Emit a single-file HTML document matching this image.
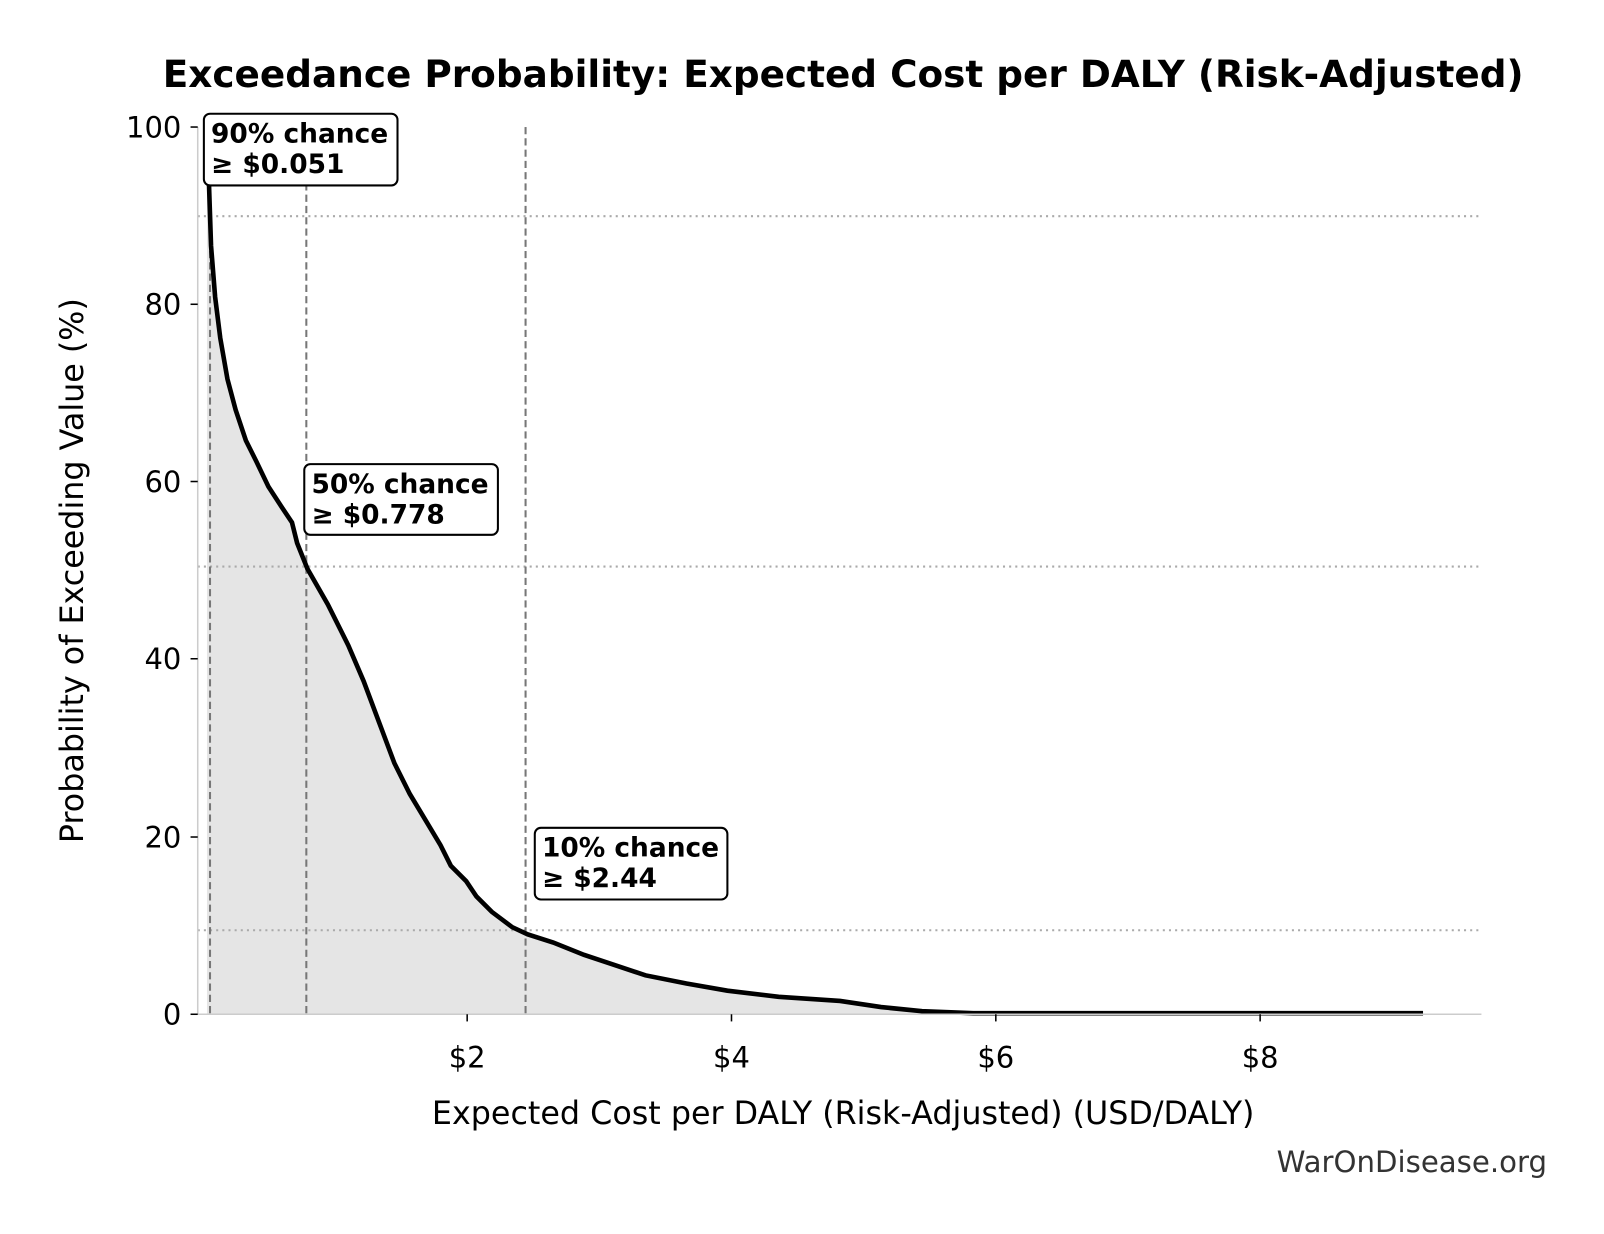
<!DOCTYPE html>
<html><head><meta charset="utf-8"><style>
html,body{margin:0;padding:0;background:#fff;}
svg{display:block;font-family:"DejaVu Sans","Liberation Sans",sans-serif;}
</style></head><body>
<svg width="1604" height="1234" viewBox="0 0 1604 1234" xmlns="http://www.w3.org/2000/svg">
<rect width="1604" height="1234" fill="#fff"/>
<g transform="scale(1.0245)">
<text x="823" y="85" text-anchor="middle" font-size="36.5" font-weight="bold">Exceedance Probability: Expected Cost per DALY (Risk-Adjusted)</text>
<polygon fill="#e5e5e5" points="202,990 202,130 204,180 206,240 210,290 215,330 222,370 230,400 240,430 250,450 262,475 275,495 285,510 290,530 300,555 320,590 340,630 355,665 370,705 385,745 400,775 415,800 430,825 440,845 455,860 465,875 480,890 500,905 515,912 540,920 570,932 600,942 630,952 670,960 710,967 760,973 820,977 860,983 900,987 950,989 1389,989 1389,990"/>
<g stroke="#aaa" stroke-width="2" stroke-dasharray="2,4">
<line x1="193" y1="211" x2="1446" y2="211"/>
<line x1="193" y1="553" x2="1446" y2="553"/>
<line x1="193" y1="908" x2="1446" y2="908"/>
</g>
<g stroke="#777" stroke-width="2" stroke-dasharray="7,4">
<line x1="205" y1="124" x2="205" y2="990"/>
<line x1="299" y1="124" x2="299" y2="990"/>
<line x1="513" y1="124" x2="513" y2="990"/>
</g>
<polyline fill="none" stroke="#000" stroke-width="4.5" points="202,130 204,180 206,240 210,290 215,330 222,370 230,400 240,430 250,450 262,475 275,495 285,510 290,530 300,555 320,590 340,630 355,665 370,705 385,745 400,775 415,800 430,825 440,845 455,860 465,875 480,890 500,905 515,912 540,920 570,932 600,942 630,952 670,960 710,967 760,973 820,977 860,983 900,987 950,989 1389,989"/>
<line x1="193" y1="990" x2="1446" y2="990" stroke="#ccc" stroke-width="1.5"/>
<line x1="193" y1="124" x2="193" y2="990" stroke="#ccc" stroke-width="1.5"/>
<g stroke="#000" stroke-width="1.5">
<line x1="186" y1="990" x2="193" y2="990"/><line x1="186" y1="817" x2="193" y2="817"/>
<line x1="186" y1="643" x2="193" y2="643"/><line x1="186" y1="470" x2="193" y2="470"/>
<line x1="186" y1="297" x2="193" y2="297"/><line x1="186" y1="124" x2="193" y2="124"/>
<line x1="456" y1="990" x2="456" y2="997"/><line x1="714" y1="990" x2="714" y2="997"/>
<line x1="972" y1="990" x2="972" y2="997"/><line x1="1230" y1="990" x2="1230" y2="997"/>
</g>
<g font-size="28.3" text-anchor="end">
<text x="177" y="1000">0</text><text x="177" y="827">20</text><text x="177" y="653">40</text>
<text x="177" y="480">60</text><text x="177" y="307">80</text><text x="177" y="134">100</text>
</g>
<g font-size="28.3" text-anchor="middle">
<text x="456" y="1042">$2</text><text x="714" y="1042">$4</text>
<text x="972" y="1042">$6</text><text x="1230" y="1042">$8</text>
</g>
<text x="823" y="1097" text-anchor="middle" font-size="31">Expected Cost per DALY (Risk-Adjusted) (USD/DALY)</text>
<text transform="translate(81,557) rotate(-90)" text-anchor="middle" font-size="31">Probability of Exceeding Value (%)</text>
<text x="1510" y="1144" text-anchor="end" font-size="28.5" fill="#333">WarOnDisease.org</text>
<g font-size="25.8" font-weight="bold">
<rect x="199" y="111" width="189" height="70" rx="6" fill="#fff" stroke="#000" stroke-width="2"/>
<text x="206" y="139">90% chance</text><text x="206" y="169">≥ $0.051</text>
<rect x="297" y="453" width="189" height="69" rx="6" fill="#fff" stroke="#000" stroke-width="2"/>
<text x="304" y="481">50% chance</text><text x="304" y="511">≥ $0.778</text>
<rect x="522" y="808" width="188" height="70" rx="6" fill="#fff" stroke="#000" stroke-width="2"/>
<text x="529" y="836">10% chance</text><text x="529" y="866">≥ $2.44</text>
</g>
</g>
</svg>
</body></html>
